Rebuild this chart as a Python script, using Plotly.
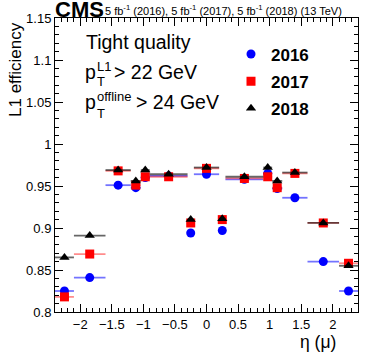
import numpy as np
import plotly.graph_objects as go

# eta bin edges and L1 efficiency per year
ETA_EDGES = [-2.4, -2.1, -1.6, -1.2, -1.04, -0.9, -0.3, -0.2, 0.2, 0.3, 0.9, 1.04, 1.2, 1.6, 2.1, 2.4]
EFF_2016 = [0.825, 0.841, 0.951, 0.948, 0.960, 0.962, 0.894, 0.964, 0.897, 0.958, 0.965, 0.947, 0.936, 0.860, 0.825]
EFF_2017 = [0.818, 0.869, 0.968, 0.951, 0.961, 0.961, 0.906, 0.971, 0.910, 0.959, 0.961, 0.948, 0.965, 0.906, 0.858]
EFF_2018 = [0.865, 0.891, 0.969, 0.956, 0.969, 0.964, 0.910, 0.972, 0.911, 0.961, 0.972, 0.956, 0.966, 0.906, 0.855]

FONT = "Liberation Sans"
W, H = 374, 360
M = dict(l=55, r=16, t=18, b=48)

edges = np.array(ETA_EDGES)
centers = (edges[1:] + edges[:-1]) / 2
half = (edges[1:] - edges[:-1]) / 2

series = [
    ("2016", EFF_2016, "#0000ff", "rgba(0,0,255,0.55)", "circle"),
    ("2017", EFF_2017, "#ff0000", "rgba(255,0,0,0.45)", "square"),
    ("2018", EFF_2018, "#000000", "rgba(0,0,0,0.6)", "triangle-up"),
]

fig = go.Figure()
for name, vals, col, ecol, sym in series:
    fig.add_trace(go.Scatter(
        x=centers, y=vals, mode="markers", name=name, legendgroup=name,
        marker=dict(color=col, size=9, symbol=sym),
        error_x=dict(type="data", array=half, visible=True, width=0,
                     thickness=1.8, color=ecol),
    ))


def px_x(x):
    return (x - M["l"]) / (W - M["l"] - M["r"])


def px_y(y):
    return (H - M["b"] - y) / (H - M["t"] - M["b"])


def note(text, x, y, size, bold=False, xanchor="left", angle=0):
    fig.add_annotation(text=f"<b>{text}</b>" if bold else text,
                       x=px_x(x), y=px_y(y), xref="paper", yref="paper",
                       xanchor=xanchor, yanchor="middle", showarrow=False,
                       textangle=angle, font=dict(family=FONT, size=size, color="black"))


# header
note("CMS", 53, 9.5, 22, bold=True)
note("5 fb<sup>-1</sup> (2016), 5 fb<sup>-1</sup> (2017), 5 fb<sup>-1</sup> (2018) (13 TeV)", 102.5, 10, 11)

# selection text
note("Tight quality", 84, 42, 19.5)
note("p", 83, 72, 19.5)
note("L1", 95, 67, 13)
note("T", 95, 81, 13)
note("> 22 GeV", 112, 72, 19.5)
note("p", 83, 102, 19.5)
note("offline", 95, 97, 13)
note("T", 95, 113, 13)
note("> 24 GeV", 134, 102, 19.5)

# axis titles
note("L1 efficiency", 15, 70, 17, xanchor="center", angle=-90)
note("η (μ)", 338, 342, 17.5, xanchor="right")

axis_common = dict(showgrid=False, zeroline=False, showline=True, linecolor="black",
                   linewidth=1, mirror="allticks", ticks="inside", ticklen=8,
                   tickcolor="black", tickfont=dict(family=FONT, size=13, color="black"))

fig.update_xaxes(range=[-2.4, 2.4], dtick=0.5, tick0=0,
                 minor=dict(dtick=0.1, ticks="inside", ticklen=4, tickcolor="black"),
                 **axis_common)
fig.update_yaxes(range=[0.8, 1.15], dtick=0.05, tick0=0.8,
                 minor=dict(dtick=0.01, ticks="inside", ticklen=4, tickcolor="black"),
                 **axis_common)

fig.update_layout(
    width=W, height=H, margin=M,
    plot_bgcolor="white", paper_bgcolor="white",
    font=dict(family=FONT, color="black"),
    showlegend=True,
    legend=dict(x=px_x(231), y=px_y(36.5), xanchor="left", yanchor="top",
                bgcolor="rgba(0,0,0,0)", tracegroupgap=2,
                font=dict(family=FONT, size=17, color="black", weight="bold")),
)

# drop the browser's default body margin so the figure sits at the page corner
fig.write_html("out.html", config={"displayModeBar": False},
               post_script="document.body.style.margin='0';")
